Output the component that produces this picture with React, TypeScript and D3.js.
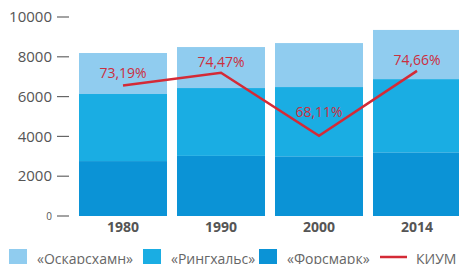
import React from "react";
import * as d3 from "d3";

// Chart data
const years = ["1980", "1990", "2000", "2014"];
const forsmark = [2760, 3020, 3000, 3200];
const ringhals = [3370, 3410, 3480, 3680];
const oskarshamn = [2060, 2060, 2210, 2470];
const kium = [73.19, 74.47, 68.11, 74.66];
const kiumLabels = ["73,19%", "74,47%", "68,11%", "74,66%"];
const yTicks = [0, 2000, 4000, 6000, 8000, 10000];

const seriesKeys = ["forsmark", "ringhals", "oskarshamn"];
const colors: Record<string, string> = {
  forsmark: "#0b93d6",
  ringhals: "#1aade3",
  oskarshamn: "#90ccef",
};
const legendItems = [
  { key: "oskarshamn", label: "«Оскарсхамн»", x: 9 },
  { key: "ringhals", label: "«Рингхальс»", x: 143 },
  { key: "forsmark", label: "«Форсмарк»", x: 259 },
];

const WIDTH = 459;
const HEIGHT = 264;
const FONT = "'Open Sans', sans-serif";
const RED = "#d42a36";

const App = () => {
  const rows = years.map((y, i) => ({
    year: y,
    forsmark: forsmark[i],
    ringhals: ringhals[i],
    oskarshamn: oskarshamn[i],
  }));
  const stacked = d3.stack<any>().keys(seriesKeys)(rows);

  const x = d3.scaleBand().domain(years).range([79, 461]).paddingInner(0.102).paddingOuter(0);
  const y = d3.scaleLinear().domain([0, 10000]).range([216, 17]);
  const y2 = d3.scaleLinear().domain([60, 80]).range([216, 18]);

  const cx = (yr: string) => (x(yr) as number) + x.bandwidth() / 2;
  const line = d3
    .line<number>()
    .x((_, i) => cx(years[i]))
    .y((d) => y2(d));

  // label offsets above the line point (the 2000 label sits inside the dip)
  const labelDy = [-7, -6, -19, -6];

  return (
    <svg
      width={WIDTH}
      height={HEIGHT}
      style={{ position: "absolute", left: 0, top: 0, background: "#fff" }}
      fontFamily={FONT}
    >
      {/* y axis */}
      {yTicks.map((t) => (
        <g key={t}>
          <text
            x={52}
            y={y(t)}
            dy="0.35em"
            textAnchor="end"
            fontSize={t === 0 ? 10 : 15}
            fill="#555"
          >
            {t}
          </text>
          <line x1={57} x2={69} y1={y(t)} y2={y(t)} stroke="#666" strokeWidth={1.2} />
        </g>
      ))}

      {/* bars */}
      {stacked.map((s) => (
        <g key={s.key} fill={colors[s.key]}>
          {s.map((d, i) => (
            <rect
              key={i}
              x={x(years[i])}
              width={x.bandwidth()}
              y={y(d[1])}
              height={y(d[0]) - y(d[1])}
            />
          ))}
        </g>
      ))}

      {/* x labels */}
      {years.map((yr) => (
        <text
          key={yr}
          x={cx(yr)}
          y={232}
          textAnchor="middle"
          fontSize={14}
          fontWeight="bold"
          fill="#555"
        >
          {yr}
        </text>
      ))}

      {/* KIUM line */}
      <path d={line(kium) || ""} fill="none" stroke={RED} strokeWidth={2.5} />
      {kium.map((v, i) => (
        <text
          key={i}
          x={cx(years[i])}
          y={y2(v) + labelDy[i]}
          textAnchor="middle"
          fontSize={14}
          fill="#cc2f3e"
        >
          {kiumLabels[i]}
        </text>
      ))}

      {/* legend */}
      {legendItems.map((it) => (
        <g key={it.key}>
          <rect x={it.x} y={249} width={18} height={18} fill={colors[it.key]} />
          <text x={it.x + 28} y={264} fontSize={14} fill="#666">
            {it.label}
          </text>
        </g>
      ))}
      <line x1={380} x2={407} y1={257} y2={257} stroke={RED} strokeWidth={2.5} />
      <text x={416} y={264} fontSize={14} fill="#666">
        КИУМ
      </text>
    </svg>
  );
};

export default App;
